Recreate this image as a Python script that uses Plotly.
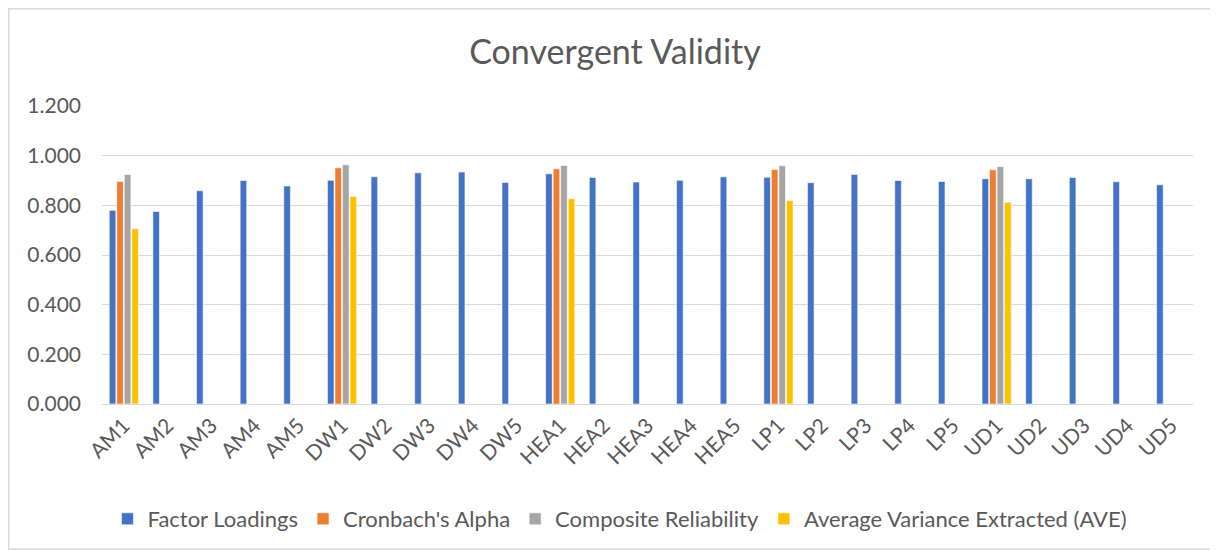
import plotly.graph_objects as go

categories = ["AM1", "AM2", "AM3", "AM4", "AM5",
              "DW1", "DW2", "DW3", "DW4", "DW5",
              "HEA1", "HEA2", "HEA3", "HEA4", "HEA5",
              "LP1", "LP2", "LP3", "LP4", "LP5",
              "UD1", "UD2", "UD3", "UD4", "UD5"]

factor_loadings = [0.780, 0.775, 0.859, 0.900, 0.878,
                   0.901, 0.915, 0.931, 0.934, 0.892,
                   0.927, 0.912, 0.894, 0.901, 0.915,
                   0.913, 0.891, 0.924, 0.900, 0.896,
                   0.907, 0.907, 0.912, 0.895, 0.883]

cronbach_alpha = [0.896, None, None, None, None,
                  0.951, None, None, None, None,
                  0.947, None, None, None, None,
                  0.944, None, None, None, None,
                  0.943, None, None, None, None]

composite_reliability = [0.924, None, None, None, None,
                         0.963, None, None, None, None,
                         0.960, None, None, None, None,
                         0.959, None, None, None, None,
                         0.956, None, None, None, None]

ave = [0.706, None, None, None, None,
       0.836, None, None, None, None,
       0.827, None, None, None, None,
       0.819, None, None, None, None,
       0.812, None, None, None, None]

series = [
    ("Factor Loadings", factor_loadings, "#4472C4"),
    ("Cronbach's Alpha", cronbach_alpha, "#ED7D31"),
    ("Composite Reliability", composite_reliability, "#A5A5A5"),
    ("Average Variance Extracted (AVE)", ave, "#FFC000"),
]

FONT = "Lato, 'Open Sans', sans-serif"
TXT = "#595959"

fig = go.Figure()
for name, vals, color in series:
    fig.add_trace(go.Bar(
        x=categories, y=vals, name=name,
        marker=dict(color=color, line=dict(color="rgba(255,255,255,0.6)", width=1)),
    ))

# page body has an 8px margin; figure drawn at offset (8, 8)
OFF = 8
W, H = 1218 - OFF, 551 - OFF
ml, mr, mt, mb = 102 - OFF, 25, 106 - OFF, 147
pw = W - ml - mr
ph = H - mt - mb

fig.update_layout(
    width=W, height=H,
    margin=dict(l=ml, r=mr, t=mt, b=mb, autoexpand=False),
    paper_bgcolor="white", plot_bgcolor="white",
    barmode="group", bargap=0.31, bargroupgap=0.12,
    font=dict(family=FONT, color=TXT, size=21),
    title=dict(text="Convergent Validity", x=(615 - OFF) / W, xanchor="center",
               y=1 - (52 - OFF) / H, yanchor="middle",
               font=dict(size=34, color=TXT, family=FONT)),
    xaxis=dict(tickangle=-45, showgrid=False, showline=True, linecolor="#D9D9D9",
               linewidth=1, ticks="", automargin=False,
               tickfont=dict(size=21, color=TXT)),
    yaxis=dict(range=[0, 1.2], dtick=0.2, tickformat=".3f", showgrid=True,
               gridcolor="#D9D9D9", gridwidth=1, zeroline=False, showline=False,
               ticks="", automargin=False, ticklabelstandoff=20,
               tickfont=dict(size=21, color=TXT)),
    legend=dict(orientation="h", x=(620 - 102) / pw, xanchor="center",
                y=(ph - (519 - 106)) / ph, yanchor="middle",
                font=dict(size=22, color=TXT), itemwidth=30,
                traceorder="normal"),
    showlegend=True,
)

# outer chart border
fig.add_shape(type="rect", xref="paper", yref="paper",
              x0=(0.75 - ml) / pw, x1=(W + 10 - ml) / pw,
              y0=(ph - (541 - mt)) / ph, y1=(ph - (0.75 - mt)) / ph,
              line=dict(color="#D9D9D9", width=1.5), layer="below")

fig.write_html("out.html")
